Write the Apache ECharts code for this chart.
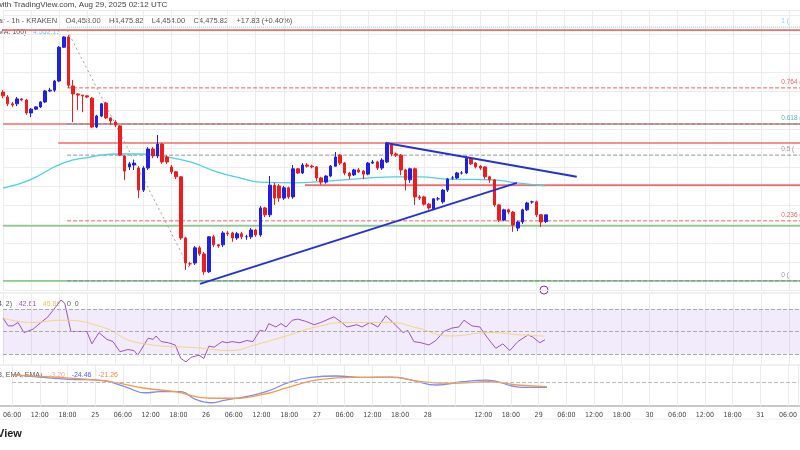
<!DOCTYPE html>
<html>
<head>
<meta charset="utf-8">
<script src="https://cdn.jsdelivr.net/npm/echarts@6/dist/echarts.min.js"></script>
<style>html,body{margin:0;padding:0;background:#fff}#chart{width:800px;height:450px}</style>
</head>
<body>
<div id="chart"></div>
<script>
// hourly candles, first one at Aug 24 06:00 (hour 0)
var opens  = [4799,4786,4768,4768,4781,4778,4744,4754,4760,4773,4802,4804,4828,4917,4944,4815,4794,4791,4789,4783,4707,4736,4770,4731,4720,4710,4631,4602,4607,4599,4541,4599,4649,4631,4662,4628,4602,4589,4576,4415,4347,4349,4389,4373,4326,4418,4397,4397,4428,4428,4415,4426,4418,4418,4436,4423,4494,4476,4554,4552,4520,4547,4523,4597,4586,4607,4604,4602,4573,4562,4578,4604,4633,4612,4586,4581,4594,4591,4583,4612,4615,4599,4615,4660,4636,4633,4594,4568,4597,4523,4523,4504,4491,4518,4510,4541,4573,4573,4586,4586,4625,4612,4604,4602,4576,4568,4502,4462,4489,4483,4441,4457,4489,4510,4510,4476,4458];
var closes = [4789,4768,4765,4781,4778,4744,4754,4760,4773,4802,4804,4828,4917,4944,4817,4794,4791,4789,4786,4707,4736,4768,4731,4723,4712,4633,4591,4610,4612,4541,4599,4649,4631,4662,4615,4615,4589,4576,4415,4349,4347,4389,4373,4326,4418,4397,4394,4428,4426,4415,4426,4418,4418,4436,4423,4494,4476,4554,4520,4520,4547,4523,4597,4586,4607,4604,4602,4573,4562,4578,4604,4628,4612,4586,4578,4594,4589,4583,4612,4615,4599,4620,4665,4636,4633,4594,4568,4597,4523,4520,4504,4494,4518,4518,4541,4570,4573,4586,4586,4625,4610,4602,4599,4576,4568,4502,4462,4489,4483,4449,4457,4489,4507,4510,4476,4457,4475.82];
var highs  = [4804,4791,4773,4786,4783,4781,4757,4762,4775,4804,4810,4831,4920,4946,4949,4831,4796,4791,4791,4786,4739,4770,4773,4733,4725,4712,4633,4615,4620,4604,4604,4654,4654,4686,4665,4633,4607,4591,4578,4418,4352,4394,4394,4378,4420,4423,4399,4433,4433,4431,4431,4431,4423,4441,4439,4499,4497,4578,4560,4557,4552,4550,4607,4599,4612,4612,4608,4604,4576,4580,4607,4641,4636,4615,4589,4597,4599,4594,4615,4620,4618,4625,4668,4662,4640,4636,4597,4600,4600,4528,4526,4507,4520,4523,4544,4573,4578,4589,4591,4631,4628,4615,4607,4604,4578,4570,4504,4492,4492,4486,4460,4492,4510,4513,4513,4478,4475.82];
var lows   = [4783,4762,4760,4762,4775,4739,4733,4752,4757,4770,4799,4799,4825,4915,4810,4720,4752,4746,4783,4704,4704,4733,4728,4712,4707,4631,4568,4594,4594,4520,4536,4594,4625,4625,4610,4610,4583,4570,4410,4331,4341,4344,4368,4318,4323,4391,4389,4391,4420,4405,4410,4412,4410,4412,4418,4418,4470,4470,4502,4510,4515,4518,4518,4583,4583,4600,4598,4565,4555,4558,4575,4602,4607,4580,4570,4578,4586,4570,4580,4610,4594,4594,4612,4630,4628,4580,4540,4560,4502,4515,4500,4489,4488,4513,4505,4536,4568,4570,4582,4583,4607,4598,4594,4570,4560,4497,4457,4459,4478,4431,4433,4452,4486,4505,4470,4444,4454];

// EMA 100
var emaHours = [0,5.8,12.8,18.6,24.4,29.3,35,40,45.7,50.6,54.9,62,69.9,78.4,83.3,89.1,94.9,104.7,109.8,115.8];
var emaVals  = [4546,4568,4612,4628,4636,4636,4628,4615,4589,4573,4562,4560,4565,4573,4576,4576,4570,4568,4560,4552.13];

// RSI and its average
var rsiHours = [0,1.1,2.1,3.2,4.5,6.4,8.1,9.6,11.3,12.4,13.2,14.5,16.9,17.9,19.0,20.5,22.2,23.5,25.0,26.7,28.0,28.8,31.0,32.1,32.7,33.8,35.3,36.8,38.0,39.1,40.2,41.9,42.9,44.0,45.1,46.8,47.9,48.9,50.6,52.1,53.4,54.9,56.0,56.8,58.3,59.4,60.5,61.8,63.0,64.7,66.5,67.9,70.7,72.4,73.5,75.6,76.7,78.4,80.1,81.8,83.3,85.5,86.5,87.8,89.3,91.0,92.5,94.2,95.9,97.4,98.5,100.2,101.9,103.4,105.3,106.8,108.3,110.0,112.2,113.2,114.7,115.8];
var rsiVals  = [62,55,55,58,49,52,58,63,72,78,75,50,50,50,39,49,43,41,32,34,33,29,44,43,46,41,40,38,26,23,27,29,26,37,36,41,40,41,40,42,41,51,50,57,54,57,54,60,61,59,56,58,63,58,54,56,54,58,54,64,58,49,51,41,40,38,42,50,53,54,60,55,54,45,35,39,33,41,47,45,40,42.61];
var rsiMaHours = [0,6.0,12.4,21.2,28.8,42.9,48.5,53.8,60.5,66.9,73.5,82.3,88.7,95.3,104.1,110.5,115.8];
var rsiMaVals  = [62,58,60,54,40,35,33,38,46,54,58,58,53,46,49,47,45.86];

// MACD
var macdHours = [0,5.9,12.4,19.0,24.4,28.8,32.1,36.4,39.7,42.9,46.2,50.6,55.0,60.4,64.7,70.2,75.6,82.2,86.5,92.0,97.4,102.9,108.3,110.6,115.8];
var macdVals  = [39,26,15,11,-21,-51,-46,-46,-83,-100,-87,-70,-46,3,24,31,24,26,11,-13,3,11,-18,-25,-24.46];
var sigHours  = [0,10.3,21.2,28.8,35.3,42.9,47.3,53.8,60.4,66.9,73.5,82.2,88.7,95.3,102.9,109.4,115.8];
var sigVals   = [35,24,3,-29,-46,-78,-78,-62,-21,15,24,24,3,-5,3,-13,-21.26];

// x tick labels every 6 hours, starting Aug 24 06:00
var tickLabels = ['06:00','12:00','18:00','25','06:00','12:00','18:00','26','06:00','12:00','18:00','27','06:00','12:00','18:00','28','','12:00','18:00','29','06:00','12:00','18:00','30','06:00','12:00','18:00','31','06:00','12:00'];

// horizontal levels
var redLevels   = [4962, 4715, 4665, 4554];
var redStarts   = [0, 0, 11.8, 64.5];
var greenLevels = [4447, 4302];
var fibRatios = ['1', '0.764', '0.618', '0.5', '0.236', '0'];
var fibPrices = [4970, 4810, 4715, 4633, 4460, 4302];
var fibColors = ['#4fc3f7', '#e53935', '#26a69a', '#787b86', '#e53935', '#787b86'];
var fibStart = 13.7;

// trend lines [hour, price]
var supportLine = [[42.1, 4294], [109.8, 4560]];
var resistLine  = [[81.8, 4665], [122.6, 4576]];
var fibDiagonal = [[13.7, 4962], [40, 4331]];

var xEnd = 170.3;
var chart = echarts.init(document.getElementById('chart'));

var candleData = [];
for (var i = 0; i < opens.length; i++) {
    candleData.push([i, opens[i], closes[i], lows[i], highs[i]]);
}

function pairs(xs, ys) {
    var out = [];
    for (var i = 0; i < xs.length; i++) out.push([xs[i], ys[i]]);
    return out;
}

function xAxisFor(idx, showLabels) {
    return {
        type: 'value', gridIndex: idx, min: 0, max: xEnd, interval: 6,
        axisLine: { show: false }, axisTick: { show: false },
        splitLine: { show: true, lineStyle: { color: '#ececec', width: 1 } },
        axisLabel: {
            show: showLabels, color: '#444', fontSize: 7, margin: 6, showMaxLabel: false,
            fontFamily: 'Liberation Sans Narrow, DejaVu Sans Condensed, sans-serif',
            formatter: function (v) { return tickLabels[Math.round(v / 6)] || ''; }
        }
    };
}

var series = [
    {
        type: 'candlestick', xAxisIndex: 0, yAxisIndex: 0, barWidth: 3,
        encode: { x: 0, y: [1, 2, 3, 4] },
        itemStyle: { color: '#1f1fe6', color0: '#ee1c1c', borderColor: '#1f1fe6', borderColor0: '#ee1c1c', borderWidth: 1 },
        data: candleData, z: 5
    },
    {
        type: 'line', xAxisIndex: 0, yAxisIndex: 0, symbol: 'none', smooth: true,
        lineStyle: { color: '#4dd0e1', width: 1.3 }, data: pairs(emaHours, emaVals), z: 4
    }
];

for (var r = 0; r < redLevels.length; r++) {
    series.push({ type: 'line', symbol: 'none', silent: true, z: 3,
        lineStyle: { color: '#f26b6b', width: 1.6 },
        data: [[redStarts[r], redLevels[r]], [xEnd, redLevels[r]]] });
}
for (var g = 0; g < greenLevels.length; g++) {
    series.push({ type: 'line', symbol: 'none', silent: true, z: 3,
        lineStyle: { color: '#66bb6a', width: 1.2 },
        data: [[0, greenLevels[g]], [xEnd, greenLevels[g]]] });
}
var fibLabelPts = [];
for (var f = 0; f < fibRatios.length; f++) {
    series.push({ type: 'line', symbol: 'none', silent: true, z: 3,
        lineStyle: { color: fibColors[f], width: 1, type: f === 0 ? 'dotted' : 'dashed', opacity: 0.8 },
        data: [[fibStart, fibPrices[f]], [xEnd, fibPrices[f]]] });
    fibLabelPts.push({ value: [166.3, fibPrices[f]],
        label: { show: true, position: 'top', align: 'left', distance: 2, color: fibColors[f], fontSize: 6.5, formatter: fibRatios[f] + ' (' } });
}
series.push({ type: 'scatter', symbolSize: 0, silent: true, data: fibLabelPts, z: 6 });
series.push({ type: 'line', symbol: 'none', silent: true, z: 3,
    lineStyle: { color: '#9e9e9e', width: 1, type: [2, 3] }, data: fibDiagonal });
series.push({ type: 'line', symbol: 'none', silent: true, z: 6,
    lineStyle: { color: '#2432d6', width: 2 }, data: supportLine });
series.push({ type: 'line', symbol: 'none', silent: true, z: 6,
    lineStyle: { color: '#2432d6', width: 2 }, data: resistLine });

// RSI pane
series.push({
    type: 'line', xAxisIndex: 1, yAxisIndex: 1, symbol: 'none',
    lineStyle: { color: '#a050c8', width: 1 }, data: pairs(rsiHours, rsiVals),
    markArea: { silent: true, itemStyle: { color: 'rgba(156,100,230,0.13)' }, data: [[{ yAxis: 30 }, { yAxis: 70 }]] },
    markLine: { silent: true, symbol: 'none', label: { show: false },
        lineStyle: { color: '#aaa', type: 'dashed', width: 1 }, data: [{ yAxis: 70 }, { yAxis: 50 }, { yAxis: 30 }] }
});
series.push({ type: 'line', xAxisIndex: 1, yAxisIndex: 1, symbol: 'none', smooth: true,
    lineStyle: { color: '#f5d67a', width: 1 }, data: pairs(rsiMaHours, rsiMaVals) });

// MACD pane
series.push({
    type: 'line', xAxisIndex: 2, yAxisIndex: 2, symbol: 'none', smooth: true,
    lineStyle: { color: '#7f8cf0', width: 1.3 }, data: pairs(macdHours, macdVals),
    markLine: { silent: true, symbol: 'none', label: { show: false },
        lineStyle: { color: '#bbb', type: 'dashed', width: 1 }, data: [{ yAxis: 0 }] }
});
series.push({ type: 'line', xAxisIndex: 2, yAxisIndex: 2, symbol: 'none', smooth: true,
    lineStyle: { color: '#f59a4b', width: 1.3 }, data: pairs(sigHours, sigVals) });

var font = 'Liberation Sans, sans-serif';

chart.setOption({
    animation: false,
    backgroundColor: '#fff',
    grid: [
        { left: 3, right: 0, top: 10, height: 280 },
        { left: 3, right: 0, top: 293, height: 72 },
        { left: 3, right: 0, top: 365, height: 41 }
    ],
    xAxis: [xAxisFor(0, false), xAxisFor(1, false), xAxisFor(2, true)],
    yAxis: [
        { type: 'value', gridIndex: 0, min: 4278, max: 5015, splitNumber: 16, scale: true,
          axisLabel: { show: false }, axisLine: { show: false }, axisTick: { show: false },
          splitLine: { lineStyle: { color: '#ececec' } } },
        { type: 'value', gridIndex: 1, min: 20.2, max: 84.2, axisLabel: { show: false },
          axisLine: { show: false }, axisTick: { show: false }, splitLine: { show: false } },
        { type: 'value', gridIndex: 2, min: -116, max: 85, axisLabel: { show: false },
          axisLine: { show: false }, axisTick: { show: false }, splitLine: { show: false } }
    ],
    series: series,
    graphic: [
        { type: 'text', left: -3, top: 1, style: { text: 'with TradingView.com, Aug 29, 2025 02:12 UTC', fontSize: 8, fontFamily: font, fill: '#444' } },
        { type: 'text', left: -2, top: 17, style: { text: 'ar - 1h - KRAKEN    O4,458.00    H4,475.82    L4,454.00    C4,475.82    +17.83 (+0.40%)', fontSize: 7.5, fontFamily: font, fill: '#555' } },
        { type: 'text', left: -2, top: 26, style: { text: '{a|MA, 100)}  {b|4,552.13}', rich: { a: { fill: '#555', fontSize: 7, fontFamily: font }, b: { fill: '#4dd0e1', fontSize: 7, fontFamily: font } } } },
        { type: 'text', left: -2, top: 298, style: { text: '{a|4, 2)}  {p|42.61}  {y|45.86}  {a|0  0}', rich: { a: { fill: '#555', fontSize: 7, fontFamily: font }, p: { fill: '#a050c8', fontSize: 7, fontFamily: font }, y: { fill: '#e8c65a', fontSize: 7, fontFamily: font } } } },
        { type: 'text', left: -2, top: 369, style: { text: '{a|8, EMA, EMA)}  {r|-3.20}  {b|-24.46}  {o|-21.26}', rich: { a: { fill: '#555', fontSize: 7, fontFamily: font }, r: { fill: '#f4a3a3', fontSize: 7, fontFamily: font }, b: { fill: '#4d5ef0', fontSize: 7, fontFamily: font }, o: { fill: '#f08a3c', fontSize: 7, fontFamily: font } } } },
        { type: 'line', shape: { x1: 0, y1: 293, x2: 800, y2: 293 }, style: { stroke: '#e0e0e0', lineWidth: 1 } },
        { type: 'line', shape: { x1: 0, y1: 365, x2: 800, y2: 365 }, style: { stroke: '#e0e0e0', lineWidth: 1 } },
        { type: 'line', shape: { x1: 0, y1: 406, x2: 800, y2: 406 }, style: { stroke: '#c8c8c8', lineWidth: 2 } },
        { type: 'line', shape: { x1: 0, y1: 419, x2: 800, y2: 419 }, style: { stroke: '#eeeeee', lineWidth: 1 } },
        { type: 'circle', shape: { cx: 544, cy: 290, r: 4 }, style: { fill: '#fff', stroke: '#9c27b0', lineWidth: 1 } },
        { type: 'text', left: -3, top: 428, style: { text: 'View', fontSize: 11, fontWeight: 'bold', fontFamily: font, fill: '#222' } }
    ]
});
</script>
</body>
</html>
